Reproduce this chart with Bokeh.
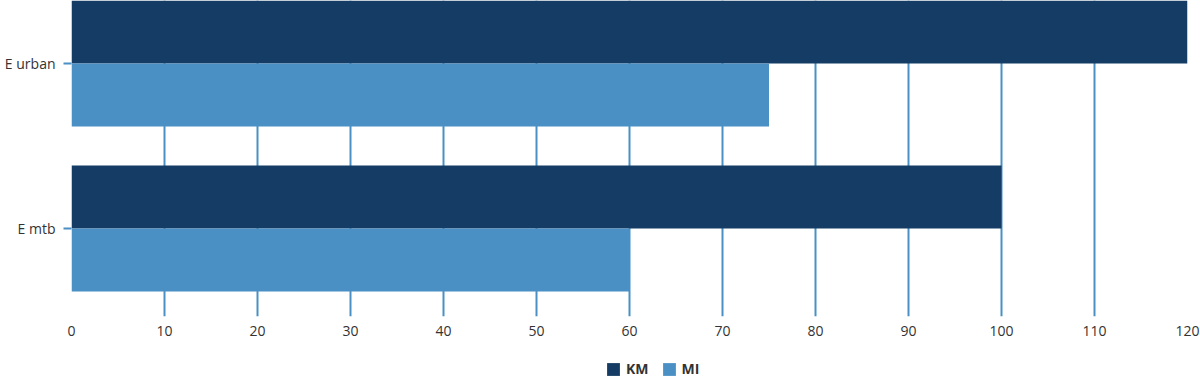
from bokeh.plotting import figure
from bokeh.layouts import column
from bokeh.models import Range1d, FixedTicker, Legend, LegendItem, ColumnDataSource
from bokeh.transform import dodge
from bokeh.embed import file_html
from bokeh.resources import INLINE

# ---- data ----
categories = ["E mtb", "E urban"]
km_values = [100, 120]
mi_values = [60, 75]
series_names = ["KM", "MI"]
series_colors = ["#143c64", "#4a90c4"]
x_ticks = [0, 10, 20, 30, 40, 50, 60, 70, 80, 90, 100, 110, 120]

ypos = list(range(len(categories)))
src = ColumnDataSource(dict(y=ypos, km=km_values, mi=mi_values))

FONT = "Open Sans"
GRID_BLUE = "#4a90c4"
TEXT = "#333333"

p = figure(width=1200, height=340, output_backend="svg", toolbar_location=None,
           x_range=Range1d(0, 120), y_range=Range1d(-0.5333, 1.3818),
           min_border_left=71, min_border_right=13, min_border_top=0,
           min_border_bottom=24)
p.outline_line_color = None
p.background_fill_color = "white"
p.border_fill_color = "white"

bar_h = 0.382
p.hbar(y=dodge("y", bar_h / 2, range=p.y_range), left=0, right="km",
       height=bar_h, source=src, fill_color=series_colors[0], line_color=None)
p.hbar(y=dodge("y", -bar_h / 2, range=p.y_range), left=0, right="mi",
       height=bar_h, source=src, fill_color=series_colors[1], line_color=None)

# x axis
p.xaxis.ticker = FixedTicker(ticks=x_ticks)
p.xaxis.axis_line_color = None
p.xaxis.major_tick_line_color = None
p.xaxis.minor_tick_line_color = None
p.xaxis.major_label_standoff = 3
p.xaxis.major_label_text_font = FONT
p.xaxis.major_label_text_font_size = "14px"
p.xaxis.major_label_text_color = TEXT

# y axis
p.yaxis.ticker = FixedTicker(ticks=ypos)
p.yaxis.major_label_overrides = {i: c for i, c in zip(ypos, categories)}
p.yaxis.axis_line_color = None
p.yaxis.major_tick_in = 0
p.yaxis.major_tick_out = 8
p.yaxis.major_tick_line_color = GRID_BLUE
p.yaxis.major_tick_line_width = 2
p.yaxis.minor_tick_line_color = None
p.yaxis.major_label_standoff = 8
p.yaxis.major_label_text_font = FONT
p.yaxis.major_label_text_font_size = "14px"
p.yaxis.major_label_text_color = TEXT

# grid
p.xgrid.ticker = FixedTicker(ticks=x_ticks)
p.xgrid.grid_line_color = GRID_BLUE
p.xgrid.grid_line_width = 2
p.ygrid.grid_line_color = None

# ---- legend strip (its bars lie outside its x range, only the legend shows) ----
lg = figure(width=1200, height=38, output_backend="svg", toolbar_location=None,
            x_range=Range1d(-2, -1), y_range=Range1d(-1, 2),
            min_border_left=0, min_border_right=0, min_border_top=0,
            min_border_bottom=0)
lg.frame_align = False
lg.axis.visible = False
lg.grid.visible = False
lg.outline_line_color = None
items = []
for name, col, field in zip(series_names, series_colors, ["km", "mi"]):
    r = lg.hbar(y="y", right=field, left=0, height=0.5, source=src,
                fill_color=col, line_color=None)
    items.append(LegendItem(label=name, renderers=[r]))

legend = Legend(items=items, orientation="horizontal", location=(605, 0),
                padding=0, margin=0, spacing=12, glyph_width=16, glyph_height=16,
                label_height=16, label_standoff=5,
                label_text_font=FONT, label_text_font_size="14px",
                label_text_font_style="bold", label_text_color=TEXT,
                border_line_color=None, background_fill_alpha=0)
lg.add_layout(legend, "center")

layout = column(p, lg, spacing=0)
open("out.html", "w").write(file_html(layout, INLINE))
